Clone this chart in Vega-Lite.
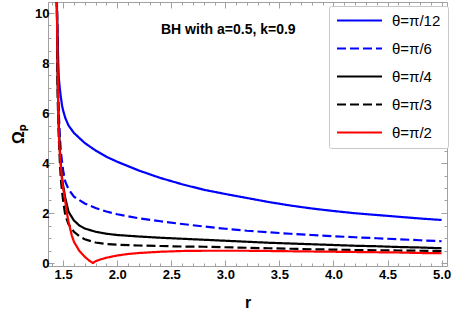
{
  "$schema": "https://vega.github.io/schema/vega-lite/v6.json",
  "width": 399,
  "height": 264,
  "autosize": "none",
  "padding": {"left": 48, "top": 2, "right": 5, "bottom": 50},
  "config": {
    "view": {"stroke": "#a0a0a0", "strokeWidth": 1},
    "font": "Liberation Sans"
  },
  "title": {
    "text": "BH with a=0.5, k=0.9",
    "anchor": "start",
    "frame": "group",
    "dx": 113,
    "offset": -35,
    "font": "Liberation Sans",
    "fontSize": 14,
    "fontWeight": "bold",
    "color": "#000000"
  },
  "data": {
    "values": [
      {"theta": "θ=π/12", "r": 1.441, "w": 10.6},
      {"theta": "θ=π/12", "r": 1.445, "w": 9.5},
      {"theta": "θ=π/12", "r": 1.45, "w": 8.7},
      {"theta": "θ=π/12", "r": 1.455, "w": 8.0},
      {"theta": "θ=π/12", "r": 1.46, "w": 7.4},
      {"theta": "θ=π/12", "r": 1.47, "w": 6.95},
      {"theta": "θ=π/12", "r": 1.48, "w": 6.6},
      {"theta": "θ=π/12", "r": 1.49, "w": 6.3},
      {"theta": "θ=π/12", "r": 1.5, "w": 6.1},
      {"theta": "θ=π/12", "r": 1.52, "w": 5.8},
      {"theta": "θ=π/12", "r": 1.55, "w": 5.5},
      {"theta": "θ=π/12", "r": 1.6, "w": 5.2},
      {"theta": "θ=π/12", "r": 1.7, "w": 4.8},
      {"theta": "θ=π/12", "r": 1.8, "w": 4.5},
      {"theta": "θ=π/12", "r": 1.9, "w": 4.25},
      {"theta": "θ=π/12", "r": 2.0, "w": 4.05},
      {"theta": "θ=π/12", "r": 2.2, "w": 3.7},
      {"theta": "θ=π/12", "r": 2.4, "w": 3.4},
      {"theta": "θ=π/12", "r": 2.6, "w": 3.15},
      {"theta": "θ=π/12", "r": 2.8, "w": 2.93},
      {"theta": "θ=π/12", "r": 3.0, "w": 2.76},
      {"theta": "θ=π/12", "r": 3.2, "w": 2.6},
      {"theta": "θ=π/12", "r": 3.4, "w": 2.44},
      {"theta": "θ=π/12", "r": 3.6, "w": 2.3},
      {"theta": "θ=π/12", "r": 3.8, "w": 2.18},
      {"theta": "θ=π/12", "r": 4.0, "w": 2.08},
      {"theta": "θ=π/12", "r": 4.2, "w": 1.99},
      {"theta": "θ=π/12", "r": 4.4, "w": 1.92},
      {"theta": "θ=π/12", "r": 4.6, "w": 1.85},
      {"theta": "θ=π/12", "r": 4.8, "w": 1.78},
      {"theta": "θ=π/12", "r": 5.0, "w": 1.72},

      {"theta": "θ=π/6", "r": 1.442, "w": 10.6},
      {"theta": "θ=π/6", "r": 1.45, "w": 7.5},
      {"theta": "θ=π/6", "r": 1.46, "w": 6.0},
      {"theta": "θ=π/6", "r": 1.47, "w": 5.0},
      {"theta": "θ=π/6", "r": 1.48, "w": 4.4},
      {"theta": "θ=π/6", "r": 1.5, "w": 3.7},
      {"theta": "θ=π/6", "r": 1.52, "w": 3.25},
      {"theta": "θ=π/6", "r": 1.55, "w": 2.95},
      {"theta": "θ=π/6", "r": 1.6, "w": 2.65},
      {"theta": "θ=π/6", "r": 1.7, "w": 2.38},
      {"theta": "θ=π/6", "r": 1.8, "w": 2.2},
      {"theta": "θ=π/6", "r": 1.9, "w": 2.06},
      {"theta": "θ=π/6", "r": 2.0, "w": 1.95},
      {"theta": "θ=π/6", "r": 2.2, "w": 1.79},
      {"theta": "θ=π/6", "r": 2.4, "w": 1.67},
      {"theta": "θ=π/6", "r": 2.6, "w": 1.56},
      {"theta": "θ=π/6", "r": 2.8, "w": 1.46},
      {"theta": "θ=π/6", "r": 3.0, "w": 1.37},
      {"theta": "θ=π/6", "r": 3.2, "w": 1.29},
      {"theta": "θ=π/6", "r": 3.4, "w": 1.23},
      {"theta": "θ=π/6", "r": 3.6, "w": 1.17},
      {"theta": "θ=π/6", "r": 3.8, "w": 1.12},
      {"theta": "θ=π/6", "r": 4.0, "w": 1.07},
      {"theta": "θ=π/6", "r": 4.2, "w": 1.03},
      {"theta": "θ=π/6", "r": 4.4, "w": 0.99},
      {"theta": "θ=π/6", "r": 4.6, "w": 0.95},
      {"theta": "θ=π/6", "r": 4.8, "w": 0.91},
      {"theta": "θ=π/6", "r": 5.0, "w": 0.87},

      {"theta": "θ=π/4", "r": 1.442, "w": 10.6},
      {"theta": "θ=π/4", "r": 1.45, "w": 7.0},
      {"theta": "θ=π/4", "r": 1.46, "w": 5.5},
      {"theta": "θ=π/4", "r": 1.47, "w": 4.5},
      {"theta": "θ=π/4", "r": 1.48, "w": 3.9},
      {"theta": "θ=π/4", "r": 1.49, "w": 3.4},
      {"theta": "θ=π/4", "r": 1.5, "w": 3.1},
      {"theta": "θ=π/4", "r": 1.52, "w": 2.6},
      {"theta": "θ=π/4", "r": 1.55, "w": 2.05},
      {"theta": "θ=π/4", "r": 1.6, "w": 1.7},
      {"theta": "θ=π/4", "r": 1.65, "w": 1.5},
      {"theta": "θ=π/4", "r": 1.7, "w": 1.38},
      {"theta": "θ=π/4", "r": 1.8, "w": 1.25},
      {"theta": "θ=π/4", "r": 1.9, "w": 1.17},
      {"theta": "θ=π/4", "r": 2.0, "w": 1.12},
      {"theta": "θ=π/4", "r": 2.2, "w": 1.06},
      {"theta": "θ=π/4", "r": 2.4, "w": 1.01},
      {"theta": "θ=π/4", "r": 2.6, "w": 0.97},
      {"theta": "θ=π/4", "r": 2.8, "w": 0.93},
      {"theta": "θ=π/4", "r": 3.0, "w": 0.89},
      {"theta": "θ=π/4", "r": 3.2, "w": 0.85},
      {"theta": "θ=π/4", "r": 3.4, "w": 0.81},
      {"theta": "θ=π/4", "r": 3.6, "w": 0.78},
      {"theta": "θ=π/4", "r": 3.8, "w": 0.75},
      {"theta": "θ=π/4", "r": 4.0, "w": 0.72},
      {"theta": "θ=π/4", "r": 4.2, "w": 0.69},
      {"theta": "θ=π/4", "r": 4.4, "w": 0.67},
      {"theta": "θ=π/4", "r": 4.6, "w": 0.64},
      {"theta": "θ=π/4", "r": 4.8, "w": 0.62},
      {"theta": "θ=π/4", "r": 5.0, "w": 0.59},

      {"theta": "θ=π/3", "r": 1.442, "w": 10.6},
      {"theta": "θ=π/3", "r": 1.45, "w": 6.5},
      {"theta": "θ=π/3", "r": 1.46, "w": 5.0},
      {"theta": "θ=π/3", "r": 1.47, "w": 4.0},
      {"theta": "θ=π/3", "r": 1.48, "w": 3.3},
      {"theta": "θ=π/3", "r": 1.49, "w": 2.85},
      {"theta": "θ=π/3", "r": 1.5, "w": 2.5},
      {"theta": "θ=π/3", "r": 1.52, "w": 1.9},
      {"theta": "θ=π/3", "r": 1.55, "w": 1.55},
      {"theta": "θ=π/3", "r": 1.6, "w": 1.25},
      {"theta": "θ=π/3", "r": 1.65, "w": 1.07},
      {"theta": "θ=π/3", "r": 1.7, "w": 0.95},
      {"theta": "θ=π/3", "r": 1.8, "w": 0.82},
      {"theta": "θ=π/3", "r": 1.9, "w": 0.76},
      {"theta": "θ=π/3", "r": 2.0, "w": 0.73},
      {"theta": "θ=π/3", "r": 2.2, "w": 0.7},
      {"theta": "θ=π/3", "r": 2.4, "w": 0.68},
      {"theta": "θ=π/3", "r": 2.6, "w": 0.66},
      {"theta": "θ=π/3", "r": 2.8, "w": 0.65},
      {"theta": "θ=π/3", "r": 3.0, "w": 0.63},
      {"theta": "θ=π/3", "r": 3.2, "w": 0.61},
      {"theta": "θ=π/3", "r": 3.4, "w": 0.59},
      {"theta": "θ=π/3", "r": 3.6, "w": 0.57},
      {"theta": "θ=π/3", "r": 3.8, "w": 0.55},
      {"theta": "θ=π/3", "r": 4.0, "w": 0.535},
      {"theta": "θ=π/3", "r": 4.2, "w": 0.52},
      {"theta": "θ=π/3", "r": 4.4, "w": 0.51},
      {"theta": "θ=π/3", "r": 4.6, "w": 0.5},
      {"theta": "θ=π/3", "r": 4.8, "w": 0.49},
      {"theta": "θ=π/3", "r": 5.0, "w": 0.48},

      {"theta": "θ=π/2", "r": 1.441, "w": 10.6},
      {"theta": "θ=π/2", "r": 1.447, "w": 8.5},
      {"theta": "θ=π/2", "r": 1.452, "w": 7.0},
      {"theta": "θ=π/2", "r": 1.456, "w": 5.8},
      {"theta": "θ=π/2", "r": 1.462, "w": 5.0},
      {"theta": "θ=π/2", "r": 1.47, "w": 4.35},
      {"theta": "θ=π/2", "r": 1.48, "w": 3.8},
      {"theta": "θ=π/2", "r": 1.49, "w": 3.3},
      {"theta": "θ=π/2", "r": 1.5, "w": 3.0},
      {"theta": "θ=π/2", "r": 1.52, "w": 2.45},
      {"theta": "θ=π/2", "r": 1.535, "w": 2.0},
      {"theta": "θ=π/2", "r": 1.55, "w": 1.65},
      {"theta": "θ=π/2", "r": 1.58, "w": 1.1},
      {"theta": "θ=π/2", "r": 1.6, "w": 0.85},
      {"theta": "θ=π/2", "r": 1.65, "w": 0.48},
      {"theta": "θ=π/2", "r": 1.7, "w": 0.25},
      {"theta": "θ=π/2", "r": 1.74, "w": 0.1},
      {"theta": "θ=π/2", "r": 1.775, "w": 0.0},
      {"theta": "θ=π/2", "r": 1.8, "w": 0.07},
      {"theta": "θ=π/2", "r": 1.85, "w": 0.15},
      {"theta": "θ=π/2", "r": 1.9, "w": 0.21},
      {"theta": "θ=π/2", "r": 2.0, "w": 0.3},
      {"theta": "θ=π/2", "r": 2.1, "w": 0.36},
      {"theta": "θ=π/2", "r": 2.2, "w": 0.4},
      {"theta": "θ=π/2", "r": 2.4, "w": 0.45},
      {"theta": "θ=π/2", "r": 2.6, "w": 0.48},
      {"theta": "θ=π/2", "r": 2.8, "w": 0.49},
      {"theta": "θ=π/2", "r": 3.0, "w": 0.49},
      {"theta": "θ=π/2", "r": 3.2, "w": 0.49},
      {"theta": "θ=π/2", "r": 3.4, "w": 0.48},
      {"theta": "θ=π/2", "r": 3.6, "w": 0.47},
      {"theta": "θ=π/2", "r": 3.8, "w": 0.46},
      {"theta": "θ=π/2", "r": 4.0, "w": 0.45},
      {"theta": "θ=π/2", "r": 4.2, "w": 0.44},
      {"theta": "θ=π/2", "r": 4.4, "w": 0.43},
      {"theta": "θ=π/2", "r": 4.6, "w": 0.42},
      {"theta": "θ=π/2", "r": 4.8, "w": 0.4},
      {"theta": "θ=π/2", "r": 5.0, "w": 0.39}
    ]
  },
  "resolve": {"axis": {"x": "independent", "y": "independent"}},
  "layer": [
    {
      "mark": {"type": "line", "strokeWidth": 2.2, "clip": true},
      "encoding": {
        "x": {
          "field": "r", "type": "quantitative",
          "scale": {"domain": [1.36, 5.05], "nice": false, "zero": false},
          "axis": {
            "orient": "bottom",
            "title": "r",
            "titleFont": "Liberation Sans", "titleFontSize": 16, "titleFontWeight": "bold", "titleColor": "#000000",
            "titlePadding": 10,
            "values": [1.4,1.5,1.6,1.7,1.8,1.9,2.0,2.1,2.2,2.3,2.4,2.5,2.6,2.7,2.8,2.9,3.0,3.1,3.2,3.3,3.4,3.5,3.6,3.7,3.8,3.9,4.0,4.1,4.2,4.3,4.4,4.5,4.6,4.7,4.8,4.9,5.0],
            "labelExpr": "abs(datum.value*2-round(datum.value*2))<0.001 ? format(datum.value,'.1f') : ''",
            "labelFont": "Liberation Sans", "labelFontSize": 13, "labelFontWeight": "bold", "labelColor": "#000000",
            "labelPadding": 8, "labelOverlap": false, "labelFlush": false, "labelBound": false,
            "domain": false, "grid": false,
            "tickColor": "#a0a0a0",
            "tickSize": {"condition": {"test": "abs(datum.value*2-round(datum.value*2))<0.001", "value": -6}, "value": -3}
          }
        },
        "y": {
          "field": "w", "type": "quantitative",
          "scale": {"domain": [-0.12, 10.44], "nice": false, "zero": false},
          "axis": {
            "orient": "left",
            "title": "Ωₚ",
            "titleFont": "Liberation Sans", "titleFontSize": 16, "titleFontWeight": "bold", "titleColor": "#000000",
            "titlePadding": 8,
            "values": [0,0.5,1,1.5,2,2.5,3,3.5,4,4.5,5,5.5,6,6.5,7,7.5,8,8.5,9,9.5,10],
            "labelExpr": "datum.value % 2 === 0 ? format(datum.value,'d') : ''",
            "labelFont": "Liberation Sans", "labelFontSize": 13, "labelFontWeight": "bold", "labelColor": "#000000",
            "labelPadding": 5, "labelOverlap": false, "labelFlush": false, "labelBound": false,
            "domain": false, "grid": false,
            "tickColor": "#a0a0a0",
            "tickSize": {"condition": {"test": "datum.value % 2 === 0", "value": -6}, "value": -3}
          }
        },
        "color": {
          "field": "theta", "type": "nominal",
          "scale": {
            "domain": ["θ=π/12", "θ=π/6", "θ=π/4", "θ=π/3", "θ=π/2"],
            "range": ["#0000ff", "#0000ff", "#000000", "#000000", "#ff0000"]
          },
          "legend": {
            "title": null,
            "orient": "none",
            "legendX": 281,
            "legendY": 4,
            "symbolType": "stroke",
            "symbolSize": 2025,
            "symbolStrokeWidth": 2,
            "clipHeight": 15,
            "labelFont": "Liberation Sans",
            "labelFontSize": 15,
            "labelColor": "#000000",
            "labelOffset": 9,
            "rowPadding": 12,
            "padding": 7,
            "strokeColor": "#c8c8c8",
            "fillColor": "#ffffff",
            "cornerRadius": 2
          }
        },
        "strokeDash": {
          "field": "theta", "type": "nominal",
          "scale": {
            "domain": ["θ=π/12", "θ=π/6", "θ=π/4", "θ=π/3", "θ=π/2"],
            "range": [[1, 0], [9, 4], [1, 0], [9, 4], [1, 0]]
          },
          "legend": {
            "title": null,
            "orient": "none",
            "legendX": 281,
            "legendY": 4,
            "symbolType": "stroke",
            "symbolSize": 2025,
            "symbolStrokeWidth": 2,
            "clipHeight": 15,
            "labelFont": "Liberation Sans",
            "labelFontSize": 15,
            "labelColor": "#000000",
            "labelOffset": 9,
            "rowPadding": 12,
            "padding": 7,
            "strokeColor": "#c8c8c8",
            "fillColor": "#ffffff",
            "cornerRadius": 2
          }
        }
      }
    },
    {
      "mark": {"type": "point", "opacity": 0, "clip": true},
      "encoding": {
        "x": {
          "field": "r", "type": "quantitative",
          "scale": {"domain": [1.36, 5.05], "nice": false, "zero": false},
          "axis": {
            "orient": "top", "title": null, "labels": false, "domain": false, "grid": false,
            "values": [1.4,1.5,1.6,1.7,1.8,1.9,2.0,2.1,2.2,2.3,2.4,2.5,2.6,2.7,2.8,2.9,3.0,3.1,3.2,3.3,3.4,3.5,3.6,3.7,3.8,3.9,4.0,4.1,4.2,4.3,4.4,4.5,4.6,4.7,4.8,4.9,5.0],
            "tickColor": "#a0a0a0",
            "tickSize": {"condition": {"test": "abs(datum.value*2-round(datum.value*2))<0.001", "value": -6}, "value": -3}
          }
        },
        "y": {
          "field": "w", "type": "quantitative",
          "scale": {"domain": [-0.12, 10.44], "nice": false, "zero": false},
          "axis": {
            "orient": "right", "title": null, "labels": false, "domain": false, "grid": false,
            "values": [0,0.5,1,1.5,2,2.5,3,3.5,4,4.5,5,5.5,6,6.5,7,7.5,8,8.5,9,9.5,10],
            "tickColor": "#a0a0a0",
            "tickSize": {"condition": {"test": "datum.value % 2 === 0", "value": -6}, "value": -3}
          }
        }
      }
    }
  ]
}
